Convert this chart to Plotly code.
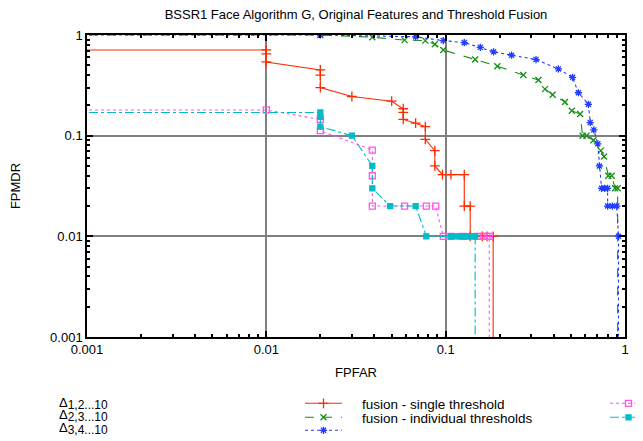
import plotly.graph_objects as go

# FPFAR / FPMDR curves (0 = off the log axis)
red_fpfar = [0, 0.01, 0.01, 0.01, 0.02, 0.02, 0.02, 0.03, 0.05, 0.058, 0.058, 0.058, 0.068,
             0.077, 0.077, 0.087, 0.087, 0.096, 0.107, 0.127, 0.127, 0.137, 0.137, 0.16,
             0.17, 0.184, 0.184]
red_fpmdr = [0.71, 0.71, 0.65, 0.54, 0.45, 0.40, 0.30, 0.245, 0.22, 0.185, 0.17, 0.145, 0.133,
             0.123, 0.092, 0.071, 0.05, 0.041, 0.041, 0.041, 0.02, 0.02, 0.01, 0.01,
             0.01, 0.01, 0]

green_fpfar = [0, 0.02, 0.039, 0.059, 0.077, 0.087, 0.097, 0.146, 0.194, 0.271, 0.329, 0.358,
               0.395, 0.463, 0.505, 0.562, 0.58, 0.61, 0.667, 0.733, 0.764, 0.807, 0.843,
               0.88, 0.91, 0.91]
green_fpmdr = [1, 1, 0.95, 0.89, 0.88, 0.81, 0.71, 0.57, 0.49, 0.40, 0.357, 0.29,
               0.255, 0.216, 0.177, 0.164, 0.1, 0.1, 0.09, 0.071, 0.062, 0.04, 0.04,
               0.03, 0.03, 0]

blue_fpfar = [0, 0.02, 0.068, 0.097, 0.127, 0.156, 0.185, 0.233, 0.319, 0.425, 0.51, 0.55,
              0.625, 0.64, 0.67, 0.705, 0.72, 0.74, 0.77, 0.8, 0.8, 0.85, 0.9, 0.92, 0.92]
blue_fpmdr = [1, 1, 0.96, 0.88, 0.84, 0.755, 0.68, 0.63, 0.57, 0.46, 0.38, 0.267,
              0.205, 0.135, 0.114, 0.083, 0.05, 0.03, 0.03, 0.03, 0.02, 0.02, 0.02, 0.01, 0]

pink_fpfar = [0, 0.01, 0.02, 0.02, 0.039, 0.039, 0.039, 0.059, 0.078, 0.088, 0.097, 0.107,
              0.125, 0.15, 0.162, 0.17, 0.175, 0.175]
pink_fpmdr = [0.18, 0.18, 0.145, 0.112, 0.072, 0.04, 0.02, 0.02, 0.02, 0.02, 0.01, 0.01,
              0.01, 0.01, 0.01, 0.01, 0.01, 0]

cyan_fpfar = [0, 0.02, 0.02, 0.02, 0.03, 0.039, 0.039, 0.049, 0.068, 0.078, 0.107, 0.115,
              0.12, 0.125, 0.13, 0.135, 0.14, 0.146, 0.146]
cyan_fpmdr = [0.17, 0.17, 0.154, 0.123, 0.1, 0.05, 0.03, 0.02, 0.02, 0.01, 0.01, 0.01,
              0.01, 0.01, 0.01, 0.01, 0.01, 0.01, 0]

tick_vals = [0.001, 0.01, 0.1, 1]
tick_text = ["0.001", "0.01", "0.1", "1"]
delta_subscripts = ["1,2...10", "2,3...10", "3,4...10"]

FLOOR = 1e-6
FONT = "Liberation Sans, Arial, sans-serif"
GAP = "\u00a0" * 4

# page body keeps its 8px margin, so the figure is laid out 8px smaller
W, H = 635, 433
PLOT_L, PLOT_R, PLOT_T, PLOT_B = 79, 617, 27, 329
PW, PH = PLOT_R - PLOT_L, PLOT_B - PLOT_T


def _log_safe(values):
    return [v if v > 0 else FLOOR for v in values]


def _px(x):
    return (x - PLOT_L) / PW


def _py(y):
    return (PLOT_B - y) / PH


# name, x, y, colour, dash, symbol, size, legend id, legend left, legend top (layout px)
series = [
    ("fusion - single threshold", red_fpfar, red_fpmdr, "#ff2a00", "solid", "cross-thin", 7, "legend", 292, 380),
    ("fusion - individual thresholds", green_fpfar, green_fpmdr, "#138f13", "dash", "x-thin", 6, "legend2", 292, 394),
    ("", blue_fpfar, blue_fpmdr, "#1f3cff", "dot", "asterisk-open", 6, "legend3", 292, 407),
    ("", pink_fpfar, pink_fpmdr, "#ff55ee", "dot", "square-open", 6, "legend4", 597, 380),
    ("", cyan_fpfar, cyan_fpmdr, "#00bcc8", "dashdot", "square", 5, "legend5", 597, 394),
]

fig = go.Figure()
legends = {}
for name, xs, ys, color, dash, symbol, size, legend, lx, ly in series:
    fig.add_scatter(
        x=_log_safe(xs),
        y=_log_safe(ys),
        mode="lines+markers",
        name=GAP + name if name else "",
        legend=legend,
        line={"color": color, "width": 1.1, "dash": dash},
        marker={"symbol": symbol, "size": size, "color": color,
                "line": {"color": color, "width": 1.3}},
    )
    legends[legend] = {"x": _px(lx), "y": _py(ly), "xanchor": "left", "yanchor": "top",
                       "bgcolor": "rgba(0,0,0,0)", "itemwidth": 37,
                       "font": {"size": 13.5, "family": FONT, "color": "#000"}}

# the three delta labels as one block; small base size keeps the line pitch tight
delta_block = "<br>".join(
    f"<span style='font-size:13px'>Δ</span><sub><span style='font-size:12px'>{sub}</span></sub>"
    for sub in delta_subscripts
)
fig.add_annotation(
    text=delta_block,
    xref="paper", yref="paper",
    x=_px(49), y=_py(408),
    xanchor="left", yanchor="middle", align="left", showarrow=False,
    font={"size": 9.6, "color": "#000", "family": FONT},
)

axis_common = dict(
    type="log",
    tickvals=tick_vals,
    ticktext=tick_text,
    ticks="inside",
    ticklen=6,
    tickwidth=1.5,
    tickcolor="#000",
    showline=True,
    linecolor="#000",
    linewidth=1.5,
    mirror="allticks",
    showgrid=True,
    gridcolor="#808080",
    gridwidth=1.5,
    zeroline=False,
    minor={"ticks": "inside", "ticklen": 3, "tickcolor": "#000", "dtick": "D1", "showgrid": False},
    tickfont={"size": 13, "color": "#000", "family": FONT},
    title_font={"size": 13, "color": "#000", "family": FONT},
)

fig.update_xaxes(**axis_common, range=[-3, 0], title_text="FPFAR", title_standoff=12)
fig.update_yaxes(**axis_common, range=[-3, 0], title_text="FPMDR", title_standoff=30)

fig.update_layout(
    width=W,
    height=H,
    margin={"l": PLOT_L, "r": W - PLOT_R, "t": PLOT_T, "b": H - PLOT_B, "autoexpand": False},
    paper_bgcolor="#fff",
    plot_bgcolor="#fff",
    font={"family": FONT, "size": 12.5, "color": "#000"},
    title={"text": "BSSR1 Face Algorithm G, Original Features and Threshold Fusion",
           "x": 0.5, "xref": "paper", "y": 1 - 6 / H, "yanchor": "middle",
           "font": {"size": 13, "family": FONT, "color": "#000"}},
    showlegend=True,
    **legends,
)

fig.write_html("out.html")
